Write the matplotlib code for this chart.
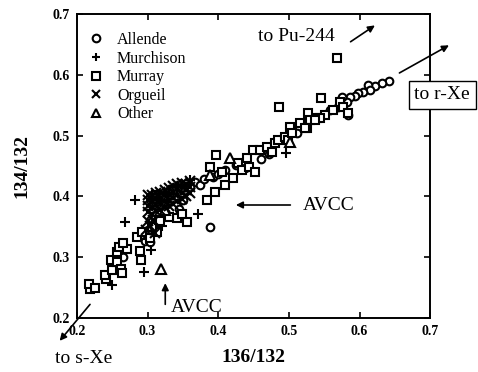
import matplotlib
matplotlib.use("Agg")
import matplotlib.pyplot as plt

plt.rcParams['font.family'] = ['Liberation Serif', 'DejaVu Serif']

# Xe isotope ratios (136/132, 134/132) by meteorite
allende_x = [0.642, 0.632, 0.622, 0.612, 0.615, 0.605, 0.598, 0.594, 0.587, 0.582,
             0.575, 0.570, 0.558, 0.584, 0.388, 0.410, 0.353, 0.367, 0.374, 0.360,
             0.380, 0.392, 0.400, 0.345, 0.350, 0.300, 0.296, 0.303, 0.265, 0.460,
             0.472, 0.512, 0.425, 0.438]
allende_y = [0.590, 0.587, 0.582, 0.583, 0.575, 0.572, 0.570, 0.565, 0.563, 0.555,
             0.563, 0.547, 0.542, 0.534, 0.350, 0.443, 0.411, 0.424, 0.419, 0.415,
             0.428, 0.432, 0.437, 0.380, 0.395, 0.345, 0.327, 0.325, 0.300, 0.462,
             0.470, 0.505, 0.452, 0.447]

murchison_x = [0.282, 0.268, 0.371, 0.295, 0.496, 0.250, 0.305, 0.360, 0.320, 0.298]
murchison_y = [0.394, 0.358, 0.371, 0.276, 0.471, 0.254, 0.312, 0.427, 0.352, 0.330]

murray_x = [0.218, 0.217, 0.225, 0.241, 0.240, 0.250, 0.248, 0.257, 0.262, 0.264,
            0.257, 0.259, 0.271, 0.265, 0.285, 0.289, 0.291, 0.292, 0.303, 0.313,
            0.306, 0.312, 0.322, 0.316, 0.336, 0.397, 0.388, 0.384, 0.395, 0.356,
            0.342, 0.405, 0.410, 0.421, 0.428, 0.434, 0.441, 0.444, 0.452, 0.449,
            0.459, 0.469, 0.476, 0.480, 0.485, 0.495, 0.502, 0.499, 0.505, 0.516,
            0.527, 0.530, 0.526, 0.540, 0.523, 0.572, 0.577, 0.584, 0.563, 0.551,
            0.544, 0.537, 0.568, 0.546, 0.486, 0.330, 0.348, 0.318]
murray_y = [0.248, 0.256, 0.249, 0.264, 0.271, 0.279, 0.295, 0.292, 0.281, 0.274,
            0.309, 0.317, 0.313, 0.323, 0.333, 0.310, 0.295, 0.341, 0.332, 0.341,
            0.350, 0.402, 0.399, 0.361, 0.411, 0.468, 0.448, 0.394, 0.407, 0.358,
            0.364, 0.440, 0.419, 0.430, 0.455, 0.443, 0.463, 0.448, 0.440, 0.476,
            0.476, 0.481, 0.473, 0.488, 0.493, 0.498, 0.514, 0.493, 0.504, 0.521,
            0.537, 0.526, 0.512, 0.529, 0.512, 0.555, 0.547, 0.537, 0.542, 0.534,
            0.529, 0.526, 0.628, 0.562, 0.547, 0.366, 0.372, 0.360]

orgueil_x = [0.300, 0.300, 0.300, 0.300, 0.306, 0.306, 0.306, 0.306,
             0.312, 0.312, 0.312, 0.312, 0.318, 0.318, 0.318, 0.318,
             0.324, 0.324, 0.324, 0.324, 0.330, 0.330, 0.330, 0.330,
             0.336, 0.336, 0.336, 0.336, 0.342, 0.342, 0.342, 0.342,
             0.348, 0.348, 0.348, 0.348, 0.354, 0.354, 0.354,
             0.360, 0.360, 0.360, 0.300, 0.303, 0.298, 0.308, 0.310]
orgueil_y = [0.375, 0.385, 0.395, 0.403, 0.372, 0.382, 0.392, 0.402,
             0.376, 0.386, 0.396, 0.406, 0.378, 0.388, 0.398, 0.408,
             0.382, 0.392, 0.402, 0.411, 0.384, 0.394, 0.404, 0.414,
             0.388, 0.398, 0.408, 0.417, 0.392, 0.402, 0.412, 0.420,
             0.396, 0.406, 0.416, 0.423, 0.400, 0.410, 0.420,
             0.405, 0.415, 0.425, 0.360, 0.352, 0.345, 0.362, 0.340]

other_x = [0.319, 0.417, 0.502, 0.388, 0.325]
other_y = [0.281, 0.463, 0.489, 0.436, 0.378]

# name, x, y, marker, size, drawing order
series = [
    ("Allende", allende_x, allende_y, "o", 5.5, 2),
    ("Murchison", murchison_x, murchison_y, "+", 7.0, 2),
    ("Murray", murray_x, murray_y, "s", 6.0, 2),
    ("Orgueil", orgueil_x, orgueil_y, "x", 6.5, 3),
    ("Other", other_x, other_y, "^", 6.5, 2),
]

fig = plt.figure(figsize=(4.78, 3.72), dpi=100)
ax = fig.add_axes([0.161, 0.145, 0.739, 0.817])

for name, xs, ys, m, ms, z in series:
    filled = m in ("+", "x")
    ax.plot(xs, ys, linestyle="none", marker=m, markersize=ms,
            markerfacecolor="black" if filled else "white",
            markeredgecolor="black", markeredgewidth=1.5, label=name,
            zorder=z)

ax.set_xlim(0.2, 0.7)
ax.set_ylim(0.2, 0.7)
ticks = [0.2, 0.3, 0.4, 0.5, 0.6, 0.7]
ax.set_xticks(ticks)
ax.set_yticks(ticks)
ax.set_xticklabels([f"{t:.1f}" for t in ticks])
ax.set_yticklabels([f"{t:.1f}" for t in ticks])
ax.tick_params(direction="in", length=4, width=1.2, top=True, right=True,
               labelsize=10, pad=5)
for lbl in ax.get_xticklabels() + ax.get_yticklabels():
    lbl.set_fontweight("bold")
for sp in ax.spines.values():
    sp.set_linewidth(1.4)

ax.set_xlabel("136/132", fontsize=14, fontweight="bold", labelpad=8)
ax.set_ylabel("134/132", fontsize=14, fontweight="bold", labelpad=16)

leg = ax.legend(loc="upper left", frameon=False, fontsize=11.5,
                handlelength=1.0, handletextpad=0.8, labelspacing=0.16,
                borderaxespad=0.3, bbox_to_anchor=(0.0, 0.978))
for h in leg.legend_handles:
    h.set_markersize(5.5)

arrow = dict(arrowstyle="-|>", color="black", lw=1.2, mutation_scale=10)

ax.text(0.456, 0.664, "to Pu-244", fontsize=14, va="center", ha="left")
ax.annotate("", xy=(0.625, 0.684), xytext=(0.584, 0.652), arrowprops=arrow,
            annotation_clip=False)

ax.annotate("", xy=(0.730, 0.651), xytext=(0.653, 0.601), arrowprops=arrow,
            annotation_clip=False)
ax.text(0.717, 0.567, "to r-Xe", fontsize=14, va="center", ha="center",
        clip_on=False,
        bbox=dict(boxstyle="square,pad=0.3", facecolor="white",
                  edgecolor="black", lw=1.0))

ax.annotate("", xy=(0.421, 0.386), xytext=(0.506, 0.386), arrowprops=arrow)
ax.text(0.519, 0.386, "AVCC", fontsize=14, va="center", ha="left")

ax.annotate("", xy=(0.325, 0.262), xytext=(0.325, 0.218), arrowprops=arrow)
ax.text(0.333, 0.218, "AVCC", fontsize=14, va="center", ha="left")

ax.annotate("", xy=(0.173, 0.159), xytext=(0.221, 0.226), arrowprops=arrow,
            annotation_clip=False)
ax.text(0.169, 0.134, "to s-Xe", fontsize=14, va="center", ha="left",
        clip_on=False)

fig.savefig("out.png", dpi=100)
